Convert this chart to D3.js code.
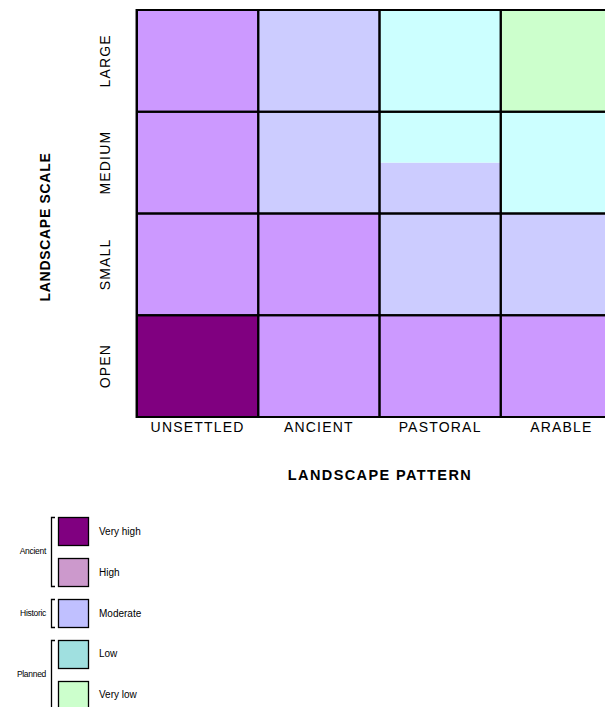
<!DOCTYPE html>
<html>
<head>
<meta charset="utf-8">
<script src="https://cdn.jsdelivr.net/npm/d3@7/dist/d3.min.js"></script>
<style>
html,body{margin:0;padding:0;background:#fff;}
svg{display:block;font-family:"Liberation Sans",Arial,sans-serif;}
</style>
</head>
<body>
<svg id="chart" width="605" height="707"></svg>
<script>
// ---- data ----
const patterns = ["UNSETTLED", "ANCIENT", "PASTORAL", "ARABLE"];
const landscapeScales = ["OPEN", "SMALL", "MEDIUM", "LARGE"];
const levels = ["Very high", "High", "Moderate", "Low", "Very low"];
// sensitivity per cell, rows listed bottom (OPEN) to top (LARGE); a cell may be split (shares, stacked bottom-up)
const rowOpen   = [[["Very high", 1]], [["High", 1]], [["High", 1]], [["High", 1]]];
const rowSmall  = [[["High", 1]], [["High", 1]], [["Moderate", 1]], [["Moderate", 1]]];
const rowMedium = [[["High", 1]], [["Moderate", 1]], [["Moderate", 0.5], ["Low", 0.5]], [["Low", 1]]];
const rowLarge  = [[["High", 1]], [["Moderate", 1]], [["Low", 1]], [["Very low", 1]]];
const cellColors = ["#800080", "#CC99FF", "#CCCCFF", "#CCFFFF", "#CCFFCC"];
const legendColors = ["#800080", "#CC99CC", "#C0C0FF", "#A0E0E0", "#CCFFCC"];
const legendGroups = [["Ancient", ["Very high", "High"]], ["Historic", ["Moderate"]], ["Planned", ["Low", "Very low"]]];

// ---- build ----
const rows = [rowOpen, rowSmall, rowMedium, rowLarge];
const cells = [];
rows.forEach((row, ri) => row.forEach((segs, ci) => {
  let acc = 0;
  segs.forEach(([level, share]) => {
    cells.push({scale: landscapeScales[ri], pattern: patterns[ci], level, from: acc, to: acc + share});
    acc += share;
  });
}));

const svg = d3.select("#chart");
const x = d3.scaleBand().domain(patterns).range([137, 622]);
const y = d3.scaleBand().domain(landscapeScales.slice().reverse()).range([10, 417]);
const cellColor = d3.scaleOrdinal().domain(levels).range(cellColors);
const legendColor = d3.scaleOrdinal().domain(levels).range(legendColors);

const g = svg.append("g");
g.selectAll("rect.seg").data(cells).join("rect")
  .attr("class", "seg")
  .attr("x", d => x(d.pattern))
  .attr("width", x.bandwidth())
  .attr("y", d => y(d.scale) + y.bandwidth() * (1 - d.to))
  .attr("height", d => y.bandwidth() * (d.to - d.from))
  .attr("fill", d => cellColor(d.level));

// grid lines
const gridCells = [];
landscapeScales.forEach(s => patterns.forEach(p => gridCells.push({s, p})));
g.selectAll("rect.grid").data(gridCells).join("rect")
  .attr("class", "grid")
  .attr("x", d => x(d.p))
  .attr("y", d => y(d.s))
  .attr("width", x.bandwidth())
  .attr("height", y.bandwidth())
  .attr("fill", "none")
  .attr("stroke", "#000")
  .attr("stroke-width", 2);

// left border shading
g.append("line")
  .attr("x1", x.range()[0] - 1.5).attr("x2", x.range()[0] - 1.5)
  .attr("y1", y.range()[0] - 1).attr("y2", y.range()[1] + 1)
  .attr("stroke", "#888").attr("stroke-width", 1);

// x axis
const xAxis = svg.append("g")
  .attr("transform", `translate(0,${y.range()[1]})`)
  .call(d3.axisBottom(x).tickSize(0).tickPadding(5));
xAxis.select(".domain").remove();
xAxis.selectAll("text")
  .attr("font-family", "Liberation Sans, Arial, sans-serif")
  .attr("font-size", 14)
  .attr("letter-spacing", "1.2px")
  .attr("fill", "#000");

// y axis
const yAxis = svg.append("g")
  .attr("transform", `translate(${x.range()[0]},0)`)
  .call(d3.axisLeft(y).tickSize(0).tickPadding(0));
yAxis.select(".domain").remove();
yAxis.selectAll(".tick text")
  .attr("transform", "translate(-32,0) rotate(-90)")
  .attr("x", 0).attr("dy", "0.35em")
  .attr("text-anchor", "middle")
  .attr("font-family", "Liberation Sans, Arial, sans-serif")
  .attr("font-size", 14)
  .attr("letter-spacing", "1.2px")
  .attr("fill", "#000");

// axis titles
svg.append("text")
  .attr("x", 380).attr("y", 480)
  .attr("text-anchor", "middle")
  .attr("font-size", 14.5).attr("font-weight", "bold")
  .attr("letter-spacing", "1.4px")
  .text("LANDSCAPE PATTERN");
svg.append("text")
  .attr("transform", "translate(50,227) rotate(-90)")
  .attr("text-anchor", "middle")
  .attr("font-size", 14).attr("font-weight", "bold")
  .attr("letter-spacing", "0.7px")
  .text("LANDSCAPE SCALE");

// legend
const ly = d3.scaleBand().domain(levels).range([517, 709]).paddingInner(0.317);
const leg = svg.append("g");
leg.selectAll("rect").data(levels).join("rect")
  .attr("x", 58.5).attr("y", d => ly(d) + 0.5)
  .attr("width", 30).attr("height", ly.bandwidth())
  .attr("fill", d => legendColor(d))
  .attr("stroke", "#000").attr("stroke-width", 1.3);
leg.selectAll("text.lab").data(levels).join("text")
  .attr("class", "lab")
  .attr("x", 99).attr("y", d => ly(d) + ly.bandwidth() / 2)
  .attr("dy", "0.35em")
  .attr("font-size", 10)
  .text(d => d);

legendGroups.forEach(([name, members]) => {
  const top = ly(members[0]);
  const bot = ly(members[members.length - 1]) + ly.bandwidth();
  leg.append("path")
    .attr("d", `M55,${top + 0.5} H51.5 V${bot + 0.5} H55`)
    .attr("fill", "none").attr("stroke", "#000").attr("stroke-width", 1.3);
  leg.append("text")
    .attr("x", 46).attr("y", (top + bot) / 2)
    .attr("dy", "0.35em")
    .attr("text-anchor", "end")
    .attr("font-size", 8.5)
    .attr("letter-spacing", "-0.3px")
    .text(name);
});
</script>
</body>
</html>
